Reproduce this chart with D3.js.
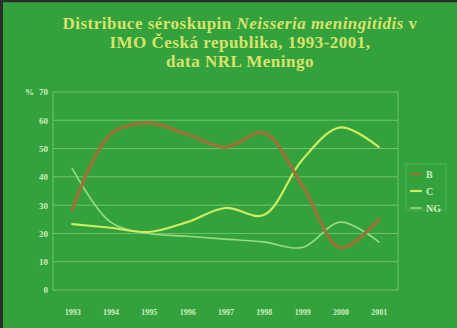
<!DOCTYPE html>
<html>
<head>
<meta charset="utf-8">
<script src="https://cdn.jsdelivr.net/npm/d3@7"></script>
<style>
  html, body { margin: 0; padding: 0; background: #34a23c; }
  svg { display: block; }
</style>
</head>
<body>
<svg id="chart" width="457" height="328"></svg>
<script>
// Serogroup shares (%) of invasive meningococcal disease, Czech Republic
const years = ["1993", "1994", "1995", "1996", "1997", "1998", "1999", "2000", "2001"];
const serogroupB  = [28.5, 55, 59, 55, 50.5, 55.5, 37, 15, 25];
const serogroupC  = [23.3, 22, 20.5, 24, 29, 26.5, 46, 57.5, 50.5];
const serogroupNG = [43, 24, 20, 19, 18, 17, 15, 24, 17];
const yTicks = [0, 10, 20, 30, 40, 50, 60, 70];
const titleLines = [
  [{ t: "Distribuce séroskupin ", i: false }, { t: "Neisseria meningitidis", i: true }, { t: " v", i: false }],
  [{ t: "IMO Česká republika, 1993-2001,", i: false }],
  [{ t: "data NRL Meningo", i: false }]
];

const series = [
  { name: "B",  values: serogroupB,  color: "#977539", width: 3.5 },
  { name: "C",  values: serogroupC,  color: "#cdec62", width: 2.2 },
  { name: "NG", values: serogroupNG, color: "#98dc80", width: 1.6 }
];

const svg = d3.select("#chart");
const W = 457, H = 328;

// background and dark frame edges
svg.append("rect").attr("width", W).attr("height", H).attr("fill", "#34a23c");
svg.append("line").attr("x1", 0).attr("x2", W).attr("y1", 1).attr("y2", 1)
  .attr("stroke", "#2b2f2b").attr("stroke-width", 2.5);
svg.append("line").attr("x1", 1.5).attr("x2", 1.5).attr("y1", 0).attr("y2", H)
  .attr("stroke", "#2b2f2b").attr("stroke-width", 3);

const plot = { left: 53, right: 398, top: 92, bottom: 290 };

const x = d3.scalePoint().domain(years).range([plot.left, plot.right]).padding(0.5);
const y = d3.scaleLinear().domain([0, 70]).range([plot.bottom, plot.top]);

// title
const title = svg.append("text")
  .attr("text-anchor", "middle")
  .attr("font-family", "'Liberation Serif', 'DejaVu Serif', serif")
  .attr("font-weight", "bold")
  .attr("font-size", 17)
  .attr("letter-spacing", 0.5)
  .attr("fill", "#d9e26c");
titleLines.forEach((parts, li) => {
  const line = title.append("tspan").attr("x", 240).attr("y", 29 + li * 19);
  parts.forEach(p => {
    line.append("tspan").attr("font-style", p.i ? "italic" : "normal").text(p.t);
  });
});

// gridlines
svg.append("g")
  .selectAll("line")
  .data(yTicks)
  .join("line")
  .attr("x1", plot.left).attr("x2", plot.right)
  .attr("y1", d => y(d)).attr("y2", d => y(d))
  .attr("stroke", "#a8e6a0").attr("stroke-opacity", 0.5).attr("stroke-width", 1);

// plot frame sides
svg.append("line").attr("x1", plot.left).attr("x2", plot.left)
  .attr("y1", plot.top).attr("y2", plot.bottom)
  .attr("stroke", "#a8e6a0").attr("stroke-opacity", 0.55);
svg.append("line").attr("x1", plot.right).attr("x2", plot.right)
  .attr("y1", plot.top).attr("y2", plot.bottom)
  .attr("stroke", "#a8e6a0").attr("stroke-opacity", 0.45);

// y axis labels
const yAxis = svg.append("g")
  .attr("transform", `translate(${plot.left - 5},0)`)
  .call(d3.axisLeft(y).tickValues(yTicks).tickSize(0).tickPadding(0));
yAxis.select(".domain").remove();
yAxis.selectAll("text")
  .attr("font-family", "'Liberation Serif', serif")
  .attr("font-weight", "bold")
  .attr("font-size", 9)
  .attr("fill", "#cfeec0");
svg.append("text")
  .attr("x", 25).attr("y", y(70) + 3)
  .attr("font-family", "'Liberation Serif', serif")
  .attr("font-weight", "bold").attr("font-size", 9)
  .attr("fill", "#cfeec0").text("%");

// x axis labels
const xAxis = svg.append("g")
  .attr("transform", `translate(0,${plot.bottom + 19})`)
  .call(d3.axisBottom(x).tickSize(0).tickPadding(0));
xAxis.select(".domain").remove();
xAxis.selectAll("text")
  .attr("font-family", "'Liberation Serif', serif")
  .attr("font-weight", "bold")
  .attr("font-size", 8)
  .attr("fill", "#cfeec0");

// smoothed series lines
const line = d3.line()
  .x((d, i) => x(years[i]))
  .y(d => y(d))
  .curve(d3.curveCatmullRom.alpha(0.5));

svg.append("g")
  .selectAll("path")
  .data(series.slice().reverse())
  .join("path")
  .attr("d", s => line(s.values))
  .attr("fill", "none")
  .attr("stroke", s => s.color)
  .attr("stroke-width", s => s.width)
  .attr("stroke-linejoin", "round")
  .attr("stroke-linecap", "round");

// legend
const legend = svg.append("g").attr("transform", "translate(410,174)");
legend.append("rect")
  .attr("x", -4).attr("y", -10).attr("width", 40).attr("height", 46)
  .attr("fill", "none").attr("stroke", "#a8e6a0").attr("stroke-opacity", 0.25);
const item = legend.selectAll("g")
  .data(series)
  .join("g")
  .attr("transform", (d, i) => `translate(0,${i * 17})`);
item.append("line")
  .attr("x1", 0).attr("x2", 12)
  .attr("stroke", d => d.color)
  .attr("stroke-width", d => Math.min(d.width, 2.5));
item.append("text")
  .attr("x", 16).attr("y", 3.5)
  .attr("font-family", "'Liberation Serif', serif")
  .attr("font-weight", "bold")
  .attr("font-size", 10)
  .attr("fill", "#cfeec0")
  .text(d => d.name);
</script>
</body>
</html>
